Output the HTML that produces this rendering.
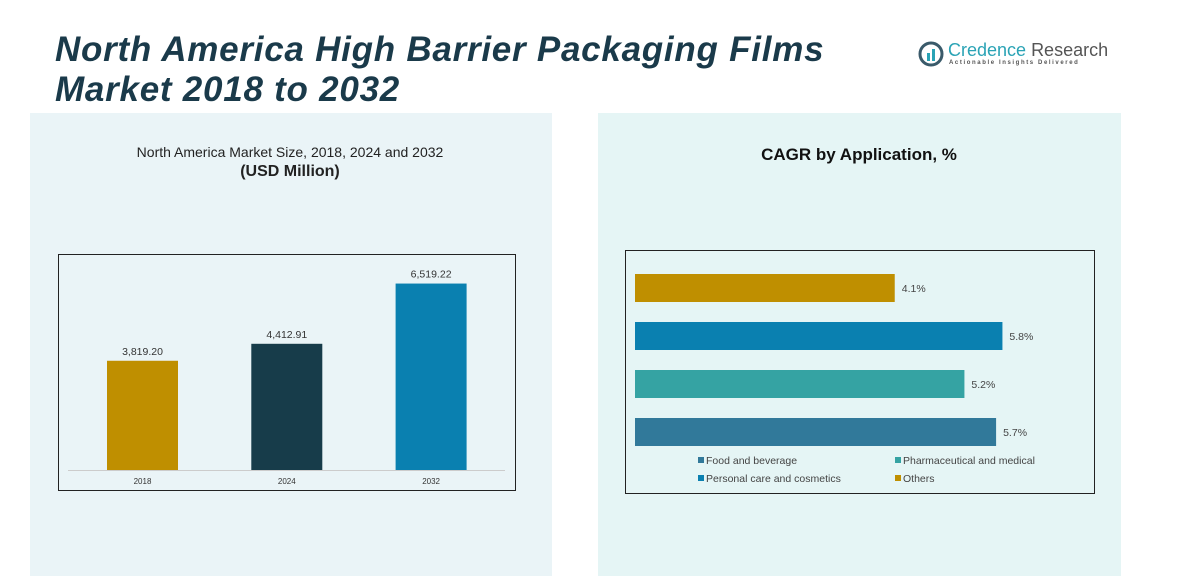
<!DOCTYPE html>
<html><head><meta charset="utf-8"><style>
body{margin:0;width:1177px;height:586px;background:#fff;position:relative;overflow:hidden;font-family:"Liberation Sans",sans-serif}
.abs{position:absolute}
</style></head><body>
<div class="abs" style="left:30px;top:113px;width:522px;height:463px;background:#eaf4f7"></div>
<div class="abs" style="left:598px;top:113px;width:523px;height:463px;background:#e5f5f5"></div>
<div class="abs" style="left:55px;top:30px;font-size:35px;letter-spacing:0.75px;font-weight:bold;font-style:italic;color:#1a3a4a;line-height:40px">North America High Barrier Packaging Films<br>Market 2018 to 2032</div>
<div class="abs" style="left:918px;top:40px;">
<svg width="26" height="28" style="position:absolute;left:0;top:0"><circle cx="13" cy="14" r="11" fill="none" stroke="#3a5a6a" stroke-width="3"/><rect x="9" y="13" width="3" height="8" fill="#2aa3b5"/><rect x="14" y="9" width="3" height="12" fill="#2aa3b5"/></svg>
<div class="abs" style="left:30px;top:0;font-size:18px;color:#2aa3b5;white-space:nowrap">Credence <span style="color:#555">Research</span></div>
<div class="abs" style="left:31px;top:20px;font-size:6px;letter-spacing:1.6px;color:#555;white-space:nowrap;font-weight:bold">Actionable Insights Delivered</div>
</div>
<div class="abs" style="left:90px;top:144px;width:400px;text-align:center;font-size:14px;color:#222">North America Market Size, 2018, 2024 and 2032<br><b style="font-size:16px;line-height:24px">(USD Million)</b></div>
<div class="abs" style="left:700px;top:145px;width:318px;text-align:center;font-size:17px;font-weight:bold;color:#111">CAGR by Application, %</div>
<svg class="abs" style="left:0;top:0" width="1177" height="586" id="svg">
<rect x="58.5" y="254.5" width="457" height="236" fill="none" stroke="#222"/>
<line x1="68" y1="470.5" x2="505" y2="470.5" stroke="#ccc"/>
<rect x="625.5" y="250.5" width="469" height="243" fill="none" stroke="#222"/>
</svg>
<script>
const years=["2018","2024","2032"];
const sizes=[3819.20,4412.91,6519.22];
const sizeLabels=["3,819.20","4,412.91","6,519.22"];
const apps=["Others","Personal care and cosmetics","Pharmaceutical and medical","Food and beverage"];
const cagr=[4.1,5.8,5.2,5.7];
const cagrLabels=["4.1%","5.8%","5.2%","5.7%"];
const NS="http://www.w3.org/2000/svg",svg=document.getElementById('svg');
const colV=["#bf8f00","#173c4a","#0a80b0"];
const colH=["#bf8f00","#0a80b0","#35a3a3","#31799a"];
function yS(v){return 470-v*0.0286;}
function xS(v){return 635+v*63.35;}
function mk(t,a){const e=document.createElementNS(NS,t);for(const k in a)e.setAttribute(k,a[k]);svg.appendChild(e);return e;}
years.forEach((y,i)=>{
 const cx=142.5+i*144.3;
 const r=mk('rect',{x:cx-35.5,y:yS(sizes[i]),width:71,height:470-yS(sizes[i]),fill:colV[i]});
 
 
 const t=mk('text',{x:cx,y:yS(sizes[i])-6,'text-anchor':'middle','font-size':10.5,fill:'#333','font-family':'Liberation Sans'});
 t.textContent=sizeLabels[i];
 
 
 const l=mk('text',{x:cx,y:484,'text-anchor':'middle','font-size':8,fill:'#333','font-family':'Liberation Sans'});
 l.textContent=y;
 
 
});
apps.forEach((a,i)=>{
 const y=274+i*48;
 const r=mk('rect',{x:635,y:y,width:xS(cagr[i])-635,height:28,fill:colH[i]});
 
 
 const t=mk('text',{x:xS(cagr[i])+7,y:y+18,'font-size':10.5,fill:'#444','font-family':'Liberation Sans'});
 t.textContent=cagrLabels[i];
 
 
});
const leg=[["Food and beverage","#31799a",698,464],["Pharmaceutical and medical","#35a3a3",895,464],["Personal care and cosmetics","#0a80b0",698,482],["Others","#bf8f00",895,482]];
leg.forEach(l=>{
 const g=document.createElementNS(NS,'g');svg.appendChild(g);
 
 
 const r=document.createElementNS(NS,'rect');r.setAttribute('x',l[2]);r.setAttribute('y',l[3]-7);r.setAttribute('width',6);r.setAttribute('height',6);r.setAttribute('fill',l[1]);g.appendChild(r);
 const t=document.createElementNS(NS,'text');t.setAttribute('x',l[2]+8);t.setAttribute('y',l[3]);t.setAttribute('font-size',10.5);t.setAttribute('fill','#444');t.setAttribute('font-family','Liberation Sans');t.textContent=l[0];g.appendChild(t);
});
</script>
</body></html>
